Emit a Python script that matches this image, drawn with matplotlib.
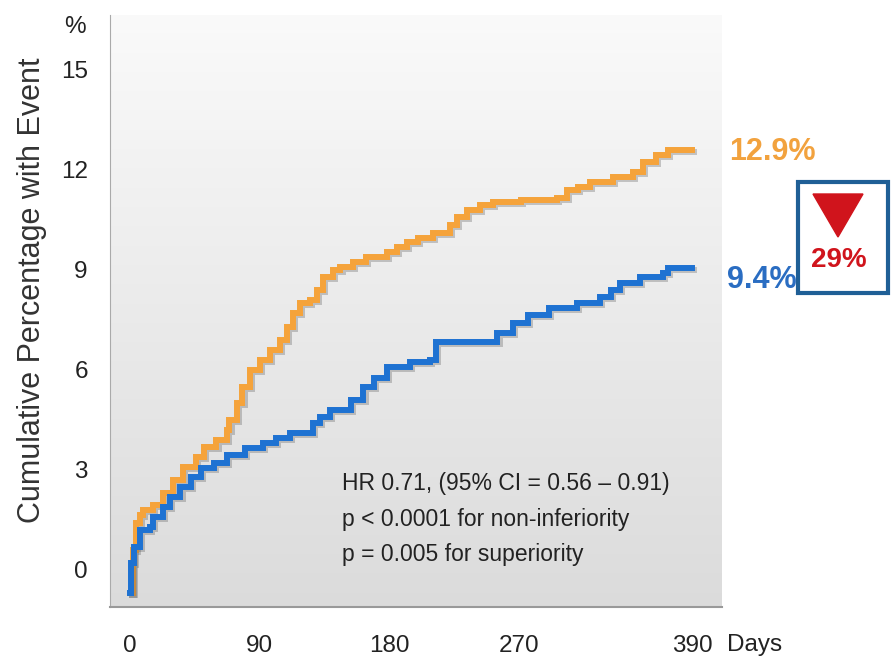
import numpy as np
import matplotlib.pyplot as plt
import matplotlib.patheffects as pe
from matplotlib.patches import Rectangle, Polygon

plt.rcParams['font.family'] = ['Liberation Sans', 'DejaVu Sans']

# cumulative event curves (days, %)
orange_days = [0, 2, 4, 7, 9, 16, 23, 30, 37, 46, 51, 60, 67, 69, 74, 78, 83, 90, 97, 104,
               109, 113, 118, 125, 130, 134, 141, 146, 155, 164, 178, 185, 192, 200, 210, 222,
               227, 234, 243, 252, 271, 296, 303, 311, 319, 335, 349, 356, 365, 373, 390]
orange_vals = [-0.7, 0.6, 1.4, 1.65, 1.8, 1.95, 2.3, 2.7, 3.1, 3.4, 3.7, 3.9, 4.2, 4.5, 5.0,
               5.5, 6.0, 6.3, 6.6, 6.9, 7.3, 7.7, 8.0, 8.1, 8.4, 8.8, 9.0, 9.1, 9.25, 9.4, 9.55,
               9.7, 9.85, 9.95, 10.1, 10.35, 10.6, 10.8, 10.95, 11.05, 11.1, 11.15, 11.4, 11.5,
               11.65, 11.8, 11.95, 12.25, 12.45, 12.6, 12.6]

blue_days = [0, 1, 3, 7, 14, 16, 23, 28, 35, 42, 49, 58, 67, 80, 92, 101, 111, 127, 132, 139,
             153, 162, 169, 178, 194, 208, 212, 250, 255, 266, 276, 291, 310, 326, 334, 340,
             354, 370, 373, 390]
blue_vals = [-0.7, 0.2, 0.7, 1.2, 1.3, 1.6, 1.9, 2.2, 2.5, 2.8, 3.05, 3.2, 3.45, 3.65, 3.8,
             3.95, 4.1, 4.4, 4.6, 4.8, 5.1, 5.5, 5.75, 6.1, 6.25, 6.3, 6.85, 6.85, 7.1, 7.4,
             7.65, 7.85, 8.0, 8.2, 8.4, 8.6, 8.8, 8.9, 9.05, 9.05]

x_ticks = [0, 90, 180, 270, 390]
y_ticks = [0, 3, 6, 9, 12, 15]

orange = '#F5A33B'
blue = '#1E72D2'

W, H = 891, 664
fig = plt.figure(figsize=(W / 100, H / 100), dpi=100)
ax = fig.add_axes([110 / W, 1 - 607 / H, (722 - 110) / W, (607 - 15) / H])
ax.set_xlim(-13.9, 410.8)
ax.set_ylim(-1.11, 16.65)

# gradient background
grad = np.linspace(0.98, 0.86, 256).reshape(-1, 1)
ax.imshow(np.dstack([grad, grad, grad]), aspect='auto', extent=[-13.9, 410.8, -1.11, 16.65],
          origin='upper', zorder=0)

shadow = [pe.SimpleLineShadow(offset=(1.5, -1.5), alpha=0.3, shadow_color='#555555'), pe.Normal()]
ax.step(orange_days, orange_vals, where='post', color=orange, lw=4.3, solid_joinstyle='miter',
        path_effects=shadow, zorder=3)
ax.step(blue_days, blue_vals, where='post', color=blue, lw=4.3, solid_joinstyle='miter',
        path_effects=shadow, zorder=4)

ax.set_xticks(x_ticks)
ax.set_yticks(y_ticks)
ax.tick_params(length=0, labelsize=17.5, colors='#222222')
ax.tick_params(axis='x', pad=20)
ax.tick_params(axis='y', pad=16)
for s in ['top', 'right']:
    ax.spines[s].set_visible(False)
ax.spines['left'].set_color('#aaaaaa')
ax.spines['bottom'].set_color('#999999')
ax.spines['bottom'].set_linewidth(1.5)

ax.text(0.379, 0.228, 'HR 0.71, (95% CI = 0.56 – 0.91)\np < 0.0001 for non-inferiority\np = 0.005 for superiority',
        transform=ax.transAxes, fontsize=16.5, color='#222222', va='top', ha='left', linespacing=1.7)

fig.text(32 / W, 1 - 290 / H, 'Cumulative Percentage with Event', rotation=90, fontsize=22,
         color='#333333', ha='center', va='center')
fig.text(75 / W, 1 - 27 / H, '%', fontsize=17.5, color='#222222', ha='center', va='center')
fig.text(755 / W, 1 - 645 / H, 'Days', fontsize=17.5, color='#222222', ha='center', va='center')

fig.text(772 / W, 1 - 152 / H, '12.9%', fontsize=22, fontweight='bold', color='#F2A23E',
         ha='center', va='center')
fig.text(762 / W, 1 - 280 / H, '9.4%', fontsize=22, fontweight='bold', color='#2A6DC2',
         ha='center', va='center')

fig.add_artist(Rectangle((798 / W, 1 - 293 / H), 90 / W, 111 / H, transform=fig.transFigure,
                         fill=False, edgecolor='#1F5F96', lw=3))
fig.add_artist(Polygon([(813 / W, 1 - 194 / H), (863 / W, 1 - 194 / H), (838 / W, 1 - 237 / H)],
                       closed=True, transform=fig.transFigure, color='#D0141C'))
fig.text(839 / W, 1 - 260 / H, '29%', fontsize=20, fontweight='bold', color='#D0141C',
         ha='center', va='center')

fig.savefig('out.png', dpi=100)
